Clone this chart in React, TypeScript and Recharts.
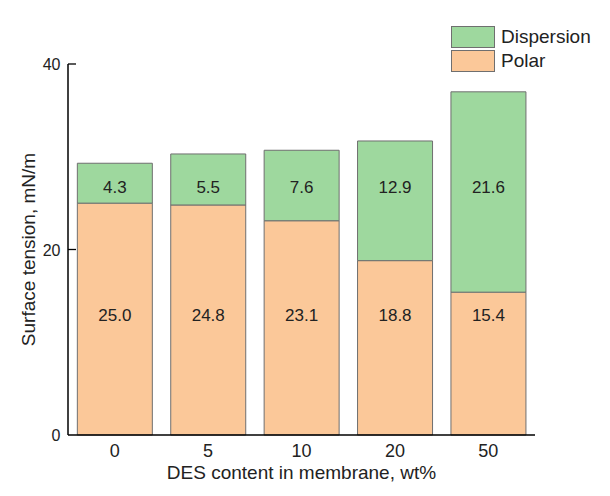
import React from "react";
import { BarChart, Bar, XAxis, YAxis, LabelList, Legend } from "recharts";

const categories = ["0", "5", "10", "20", "50"];
const polar = [25.0, 24.8, 23.1, 18.8, 15.4];
const dispersion = [4.3, 5.5, 7.6, 12.9, 21.6];
const yTicks = [0, 20, 40];
// value-axis levels at which the labels sit in the original figure
const polarLabelLevel = 12.9;
const dispersionLabelLevel = 26.8;

const data = categories.map((c, i) => ({ name: c, polar: polar[i], dispersion: dispersion[i] }));

const FONT = "'Liberation Sans', Arial, sans-serif";
const POLAR_COLOR = "#FBC899";
const DISP_COLOR = "#9ED89E";
const STROKE = "#6f6f6f";

const getBox = (p: any) => {
  const vb = p.viewBox || {};
  const x = p.x ?? vb.x;
  const y = p.y ?? vb.y;
  const width = p.width ?? vb.width;
  const height = p.height ?? vb.height;
  return { x: Number(x), y: Number(y), width: Number(width), height: Number(height) };
};

const makeLabel = (kind: "polar" | "dispersion") => (p: any) => {
  const { x, y, width, height } = getBox(p);
  const idx = p.index ?? 0;
  const v = kind === "polar" ? polar[idx] : dispersion[idx];
  const ppu = Math.abs(height) / v;
  const top = Math.min(y, y + height);
  const bottom = top + Math.abs(height);
  const baseline = kind === "polar" ? bottom : bottom + polar[idx] * ppu;
  const level = kind === "polar" ? polarLabelLevel : dispersionLabelLevel;
  const ty = baseline - level * ppu;
  return (
    <text x={x + width / 2} y={ty} dy="0.36em" textAnchor="middle" fontSize={17} fill="#222" fontFamily={FONT}>
      {v.toFixed(1)}
    </text>
  );
};

const YTick = (props: any) => {
  const { x, y, payload } = props;
  const ax = x + 8;
  return (
    <g>
      {payload.value !== 0 && <line x1={ax} x2={ax + 8} y1={y} y2={y} stroke="#000" strokeWidth={1.3} />}
      <text x={ax - 7.5} y={y} dy={6} textAnchor="end" fontSize={16} fill="#222" fontFamily={FONT}>
        {payload.value}
      </text>
    </g>
  );
};

const LegendContent = () => (
  <div style={{ fontFamily: FONT, fontSize: 19, color: "#222", lineHeight: "22px" }}>
    {[
      { label: "Dispersion", color: DISP_COLOR },
      { label: "Polar", color: POLAR_COLOR },
    ].map((it) => (
      <div key={it.label} style={{ display: "flex", alignItems: "center", height: 24 }}>
        <div style={{ width: 42, height: 20, background: it.color, border: `1px solid ${STROKE}`, marginRight: 6 }} />
        <span>{it.label}</span>
      </div>
    ))}
  </div>
);

export default function App() {
  return (
    <div style={{ position: "absolute", left: 0, top: 0, background: "#fff" }}>
      <BarChart
        width={610}
        height={496}
        data={data}
        margin={{ top: 64, right: 75, left: 0, bottom: 0 }}
        barCategoryGap="10%"
      >
        <XAxis
          dataKey="name"
          height={61}
          tickLine={false}
          axisLine={{ stroke: "#000", strokeWidth: 1.5 }}
          tick={{ fontSize: 18, fill: "#222", fontFamily: FONT }}
          tickMargin={3}
          label={{ value: "DES content in membrane, wt%", position: "insideBottom", offset: 17, fontSize: 19, fill: "#222", fontFamily: FONT }}
        />
        <YAxis
          width={68}
          domain={[0, 40]}
          ticks={yTicks}
          tickLine={false}
          axisLine={{ stroke: "#000", strokeWidth: 1.5 }}
          tick={<YTick />}
          label={{ value: "Surface tension, mN/m", angle: -90, position: "center", dx: -6, fontSize: 19, fill: "#222", fontFamily: FONT }}
        />
        <Legend
          verticalAlign="middle"
          align="center"
          layout="horizontal"
          content={<LegendContent />}
          wrapperStyle={{ left: 451, top: 25, width: 160, height: 50 }}
        />
        <Bar dataKey="polar" stackId="a" fill={POLAR_COLOR} stroke={STROKE} strokeWidth={1} isAnimationActive={false}>
          <LabelList dataKey="polar" content={makeLabel("polar")} />
        </Bar>
        <Bar dataKey="dispersion" stackId="a" fill={DISP_COLOR} stroke={STROKE} strokeWidth={1} isAnimationActive={false}>
          <LabelList dataKey="dispersion" content={makeLabel("dispersion")} />
        </Bar>
      </BarChart>
    </div>
  );
}
